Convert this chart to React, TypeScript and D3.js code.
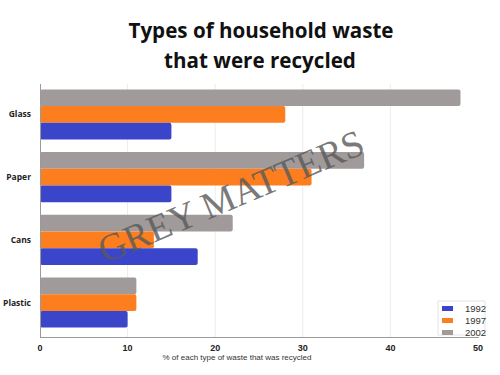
import { useEffect, useRef } from "react";
import * as d3 from "d3";

const categories = ["Glass", "Paper", "Cans", "Plastic"];
const years = ["2002", "1997", "1992"];
const values1992 = [15, 15, 18, 10];
const values1997 = [28, 31, 13, 11];
const values2002 = [48, 37, 22, 11];
const xTicks = [0, 10, 20, 30, 40, 50];
const legendYears = ["1992", "1997", "2002"];

const colors: Record<string, string> = {
  "1992": "#3b45c9",
  "1997": "#fd7e1f",
  "2002": "#a09a9a",
};

const App = () => {
  const svgRef = useRef<SVGSVGElement>(null);

  useEffect(() => {
    if (!svgRef.current) return;
    d3.select(svgRef.current).selectAll("*").remove();

    const width = 500;
    const height = 375;
    const svg = d3.select(svgRef.current)
      .attr("width", width)
      .attr("height", height)
      .attr("viewBox", `0 0 ${width} ${height}`);

    svg.append("rect").attr("width", width).attr("height", height).attr("fill", "#fff");

    const x = d3.scaleLinear().domain([0, 50]).range([40, 478]);
    const y = d3.scaleBand().domain(categories).range([80, 337]).paddingInner(0.2).paddingOuter(0.15);
    const ySub = d3.scaleBand().domain(years).range([0, y.bandwidth()]).padding(0);

    const seriesByYear: Record<string, number[]> = {
      "1992": values1992,
      "1997": values1997,
      "2002": values2002,
    };

    // Title
    const title = svg.append("text")
      .attr("text-anchor", "middle")
      .style("font-family", "'Open Sans', sans-serif")
      .style("font-weight", "700")
      .style("font-size", "20.6px")
      .style("fill", "#111");
    title.append("tspan").attr("x", 261).attr("y", 38).text("Types of household waste");
    title.append("tspan").attr("x", 260).attr("y", 68).text("that were recycled");

    // Gridlines
    svg.append("g")
      .selectAll("line")
      .data(xTicks.slice(1, -1))
      .join("line")
      .attr("x1", d => x(d))
      .attr("x2", d => x(d))
      .attr("y1", 84)
      .attr("y2", 337)
      .attr("stroke", "#ececec")
      .attr("stroke-width", 1);

    // Bars
    const groups = svg.append("g")
      .selectAll("g")
      .data(categories)
      .join("g")
      .attr("transform", d => `translate(0,${y(d)})`);

    groups.selectAll("rect")
      .data((c, i) => years.map(yr => ({ yr, v: seriesByYear[yr][i] })))
      .join("rect")
      .attr("x", x(0))
      .attr("y", d => ySub(d.yr)!)
      .attr("width", d => x(d.v) - x(0))
      .attr("height", ySub.bandwidth())
      .attr("rx", 2)
      .attr("fill", d => colors[d.yr]);

    // Axes lines
    svg.append("line")
      .attr("x1", 40).attr("x2", 479)
      .attr("y1", 337.5).attr("y2", 337.5)
      .attr("stroke", "#9a9a9a").attr("stroke-width", 1.2);
    svg.append("line")
      .attr("x1", 40.5).attr("x2", 40.5)
      .attr("y1", 84).attr("y2", 337)
      .attr("stroke", "#9a9a9a").attr("stroke-width", 1);

    // Tick labels
    svg.append("g")
      .selectAll("text")
      .data(xTicks)
      .join("text")
      .attr("x", d => x(d))
      .attr("y", 351)
      .attr("text-anchor", "middle")
      .style("font-family", "'Liberation Sans', Arial, sans-serif")
      .style("font-weight", "700")
      .style("font-size", "9px")
      .style("fill", "#222")
      .text(d => d);

    // Category labels
    svg.append("g")
      .selectAll("text")
      .data(categories)
      .join("text")
      .attr("x", 31)
      .attr("y", d => y(d)! + y.bandwidth() / 2 + 3)
      .attr("text-anchor", "end")
      .style("font-family", "'Open Sans', sans-serif")
      .style("font-weight", "700")
      .style("font-size", "8.5px")
      .style("fill", "#222")
      .text(d => d);

    // Axis title
    svg.append("text")
      .attr("x", 237)
      .attr("y", 360)
      .attr("text-anchor", "middle")
      .style("font-family", "'Liberation Sans', Arial, sans-serif")
      .style("font-size", "8px")
      .style("fill", "#333")
      .text("% of each type of waste that was recycled");

    // Legend
    const legend = svg.append("g").attr("transform", "translate(438,301)");
    legend.append("rect")
      .attr("width", 47).attr("height", 34)
      .attr("fill", "#fff")
      .attr("stroke", "#e4e4e4");
    legend.selectAll("g")
      .data(legendYears)
      .join("g")
      .attr("transform", (d, i) => `translate(0,${3 + i * 12})`)
      .each(function (d) {
        const g = d3.select(this);
        g.append("rect")
          .attr("x", 4).attr("y", 2)
          .attr("width", 11).attr("height", 5)
          .attr("fill", colors[d]);
        g.append("text")
          .attr("x", 27).attr("y", 8)
          .style("font-family", "'Liberation Sans', Arial, sans-serif")
          .style("font-size", "9.5px")
          .style("fill", "#333")
          .text(d);
      });

    // Watermark
    svg.append("text")
      .attr("transform", "translate(236,208) rotate(-23)")
      .attr("text-anchor", "middle")
      .style("font-family", "'Liberation Serif', 'DejaVu Serif', serif")
      .style("font-size", "38px")
      .style("fill", "#5a5a5a")
      .style("opacity", 0.8)
      .text("GREY MATTERS");
  }, []);

  return (
    <div style={{ position: "absolute", left: 0, top: 0 }}>
      <svg ref={svgRef} style={{ display: "block" }}></svg>
    </div>
  );
};

export default App;
